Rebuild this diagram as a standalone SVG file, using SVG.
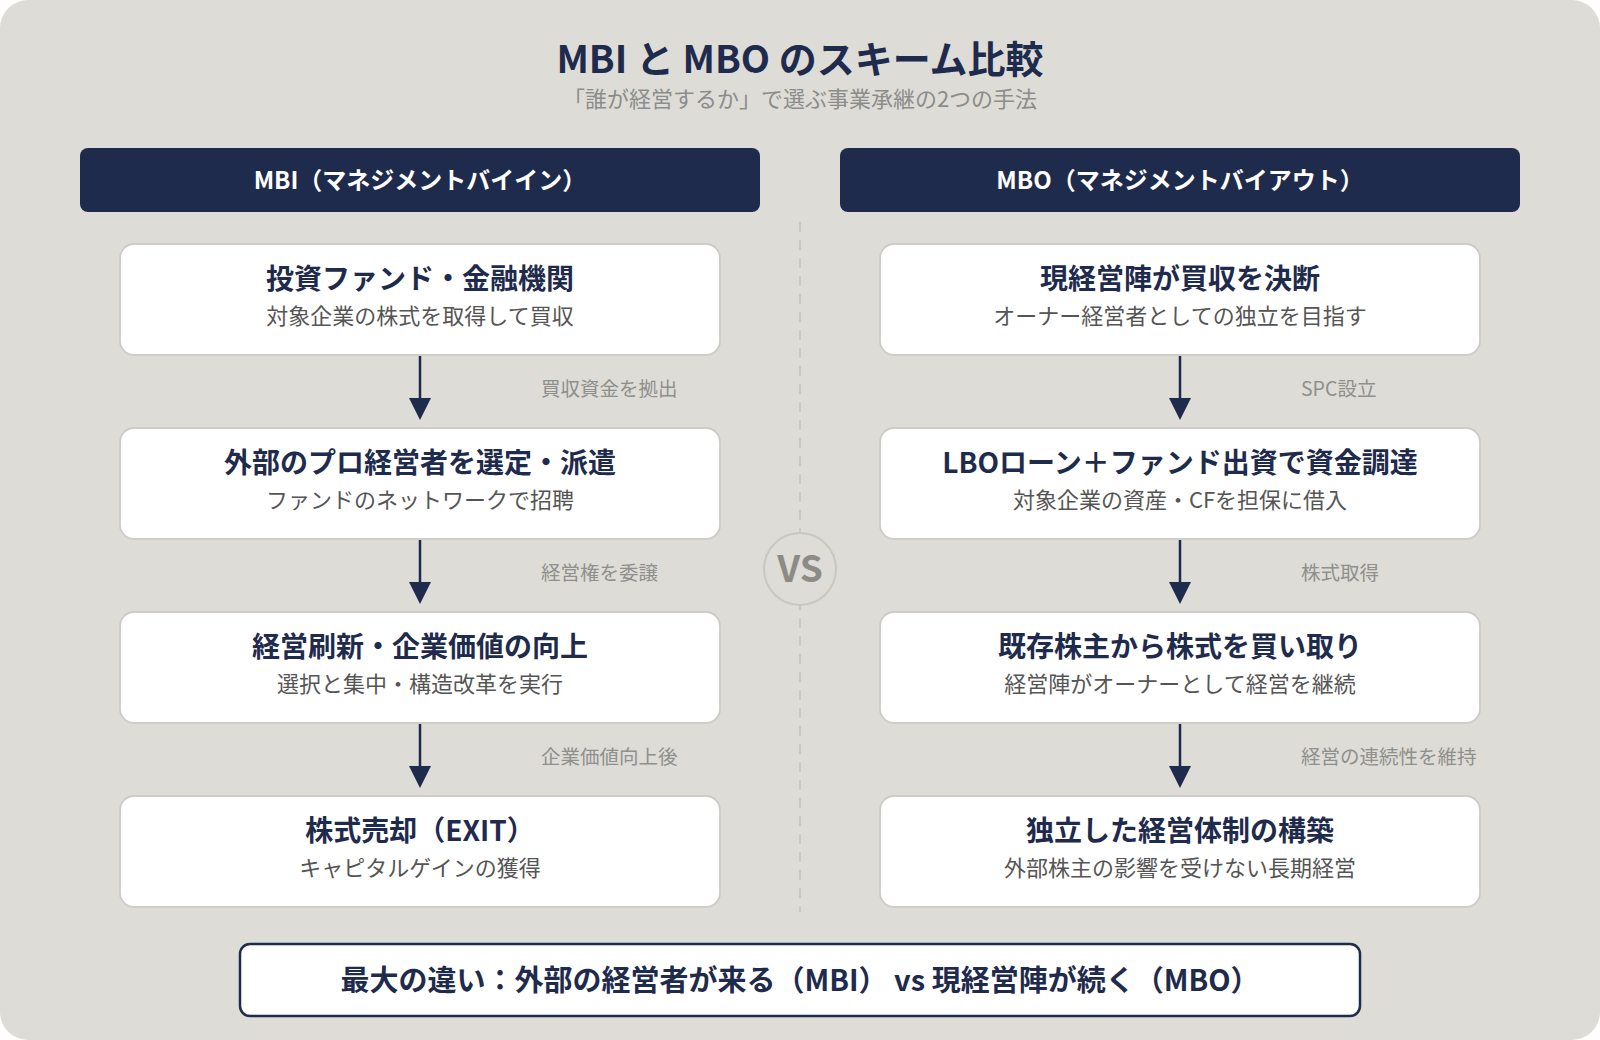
<svg xmlns="http://www.w3.org/2000/svg" width="1600" height="1040" viewBox="0 0 1600 1040">
<defs>
<style>
.jp{font-family:"Noto Sans CJK JP","Noto Sans",sans-serif}
.title{font-size:38px;font-weight:700;fill:#1f2b4d}
.sub{font-size:22px;fill:#8c8c8a}
.hdr{fill:#1f2b4d}
.hdrt{font-size:24px;font-weight:700;fill:#ffffff}
.box{fill:#ffffff;stroke:#cfcdc7;stroke-width:2}
.bt{font-size:28px;font-weight:700;fill:#1f2b4d}
.bs{font-size:22px;fill:#555555}
.lbl{font-size:19.5px;fill:#8f8f8c}
.arr{stroke:#1f2b4d;stroke-width:2.5;fill:none}
.ah{fill:#1f2b4d}
.sum{font-size:29px;font-weight:700;fill:#1f2b4d}
</style>
</defs>
<rect x="0" y="0" width="1600" height="1040" fill="#ffffff"/>
<rect x="0" y="0" width="1600" height="1040" rx="28" fill="#dddcd7"/>

<g id="title" class="jp" text-anchor="middle">
<text x="800" y="73" class="title">MBI と MBO のスキーム比較</text>
<text x="800" y="107" class="sub">「誰が経営するか」で選ぶ事業承継の2つの手法</text>
</g>

<g id="header-mbi">
<rect x="80" y="148" width="680" height="64" rx="8" class="hdr"/>
<text x="420" y="189" text-anchor="middle" class="jp hdrt">MBI（マネジメントバイイン）</text>
</g>
<g id="header-mbo">
<rect x="840" y="148" width="680" height="64" rx="8" class="hdr"/>
<text x="1180" y="189" text-anchor="middle" class="jp hdrt">MBO（マネジメントバイアウト）</text>
</g>

<g id="divider">
<line x1="800" y1="222" x2="800" y2="912" stroke="#c4c3be" stroke-width="1.5" stroke-dasharray="10 8"/>
</g>
<g id="vs">
<circle cx="800" cy="569" r="36" fill="#dddcd7" stroke="#c8c7c2" stroke-width="2"/>
<text x="800" y="582" text-anchor="middle" class="jp" font-size="37" font-weight="700" fill="#8c8b86">VS</text>
</g>

<g id="connectors">
<line x1="420" y1="356" x2="420" y2="400" class="arr"/>
<polygon points="409,398 431,398 420,420" class="ah"/>
<line x1="420" y1="540" x2="420" y2="584" class="arr"/>
<polygon points="409,582 431,582 420,604" class="ah"/>
<line x1="420" y1="724" x2="420" y2="768" class="arr"/>
<polygon points="409,766 431,766 420,788" class="ah"/>
<line x1="1180" y1="356" x2="1180" y2="400" class="arr"/>
<polygon points="1169,398 1191,398 1180,420" class="ah"/>
<line x1="1180" y1="540" x2="1180" y2="584" class="arr"/>
<polygon points="1169,582 1191,582 1180,604" class="ah"/>
<line x1="1180" y1="724" x2="1180" y2="768" class="arr"/>
<polygon points="1169,766 1191,766 1180,788" class="ah"/>
<g class="jp lbl">
<text x="541" y="396">買収資金を拠出</text>
<text x="541" y="580">経営権を委譲</text>
<text x="541" y="764">企業価値向上後</text>
<text x="1301" y="396">SPC設立</text>
<text x="1301" y="580">株式取得</text>
<text x="1301" y="764">経営の連続性を維持</text>
</g>
</g>

<g id="mbi-1">
<rect x="120" y="244" width="600" height="111" rx="14" class="box"/>
<text x="420" y="289" text-anchor="middle" class="jp bt">投資ファンド・金融機関</text>
<text x="420" y="324" text-anchor="middle" class="jp bs">対象企業の株式を取得して買収</text>
</g>
<g id="mbi-2">
<rect x="120" y="428" width="600" height="111" rx="14" class="box"/>
<text x="420" y="473" text-anchor="middle" class="jp bt">外部のプロ経営者を選定・派遣</text>
<text x="420" y="508" text-anchor="middle" class="jp bs">ファンドのネットワークで招聘</text>
</g>
<g id="mbi-3">
<rect x="120" y="612" width="600" height="111" rx="14" class="box"/>
<text x="420" y="657" text-anchor="middle" class="jp bt">経営刷新・企業価値の向上</text>
<text x="420" y="692" text-anchor="middle" class="jp bs">選択と集中・構造改革を実行</text>
</g>
<g id="mbi-4">
<rect x="120" y="796" width="600" height="111" rx="14" class="box"/>
<text x="420" y="841" text-anchor="middle" class="jp bt">株式売却（EXIT）</text>
<text x="420" y="876" text-anchor="middle" class="jp bs">キャピタルゲインの獲得</text>
</g>

<g id="mbo-1">
<rect x="880" y="244" width="600" height="111" rx="14" class="box"/>
<text x="1180" y="289" text-anchor="middle" class="jp bt">現経営陣が買収を決断</text>
<text x="1180" y="324" text-anchor="middle" class="jp bs">オーナー経営者としての独立を目指す</text>
</g>
<g id="mbo-2">
<rect x="880" y="428" width="600" height="111" rx="14" class="box"/>
<text x="1180" y="473" text-anchor="middle" class="jp bt">LBOローン＋ファンド出資で資金調達</text>
<text x="1180" y="508" text-anchor="middle" class="jp bs">対象企業の資産・CFを担保に借入</text>
</g>
<g id="mbo-3">
<rect x="880" y="612" width="600" height="111" rx="14" class="box"/>
<text x="1180" y="657" text-anchor="middle" class="jp bt">既存株主から株式を買い取り</text>
<text x="1180" y="692" text-anchor="middle" class="jp bs">経営陣がオーナーとして経営を継続</text>
</g>
<g id="mbo-4">
<rect x="880" y="796" width="600" height="111" rx="14" class="box"/>
<text x="1180" y="841" text-anchor="middle" class="jp bt">独立した経営体制の構築</text>
<text x="1180" y="876" text-anchor="middle" class="jp bs">外部株主の影響を受けない長期経営</text>
</g>

<g id="summary">
<rect x="240" y="944" width="1120" height="72" rx="10" fill="#ffffff" stroke="#1f2b4d" stroke-width="2.5"/>
<text x="800" y="991" text-anchor="middle" class="jp sum">最大の違い：外部の経営者が来る（MBI） vs 現経営陣が続く（MBO）</text>
</g>
</svg>
